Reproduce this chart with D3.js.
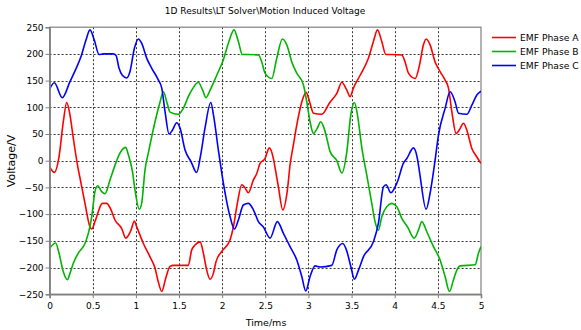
<!DOCTYPE html>
<html><head><meta charset="utf-8">
<script src="https://cdn.jsdelivr.net/npm/d3@7"></script>
<style>
body{margin:0;background:#fff;}
svg{display:block;}
text{font-family:"DejaVu Sans",sans-serif;font-size:9px;fill:#000;}
</style>
</head><body>
<svg id="c" width="581" height="330"></svg>
<script>
const chartTitle = "1D Results\\LT Solver\\Motion Induced Voltage";
const xLabel = "Time/ms";
const yLabel = "Voltage/V";
const seriesNames = ["EMF Phase A", "EMF Phase B", "EMF Phase C"];
const xTicks = [0, 0.5, 1, 1.5, 2, 2.5, 3, 3.5, 4, 4.5, 5];
const yTicks = [-250, -200, -150, -100, -50, 0, 50, 100, 150, 200, 250];

const phaseA = [[0,-11],[0.055,-22],[0.109,7],[0.159,73],[0.198,109],[0.236,86],[0.275,42],[0.32,-5],[0.364,-42],[0.41,-80],[0.468,-124],[0.488,-128],[0.526,-114],[0.565,-95],[0.611,-80],[0.662,-80],[0.712,-92],[0.758,-111],[0.836,-127],[0.882,-145],[0.944,-130],[0.982,-113],[1.01,-124],[1.087,-155],[1.164,-180],[1.222,-201],[1.26,-227],[1.3,-245],[1.346,-220],[1.396,-198],[1.435,-196],[1.608,-196],[1.647,-167],[1.686,-158],[1.744,-152],[1.782,-173],[1.821,-205],[1.86,-222],[1.898,-211],[1.929,-189],[1.995,-170],[2.092,-148],[2.13,-124],[2.176,-80],[2.227,-45],[2.262,-50],[2.304,-60],[2.362,-36],[2.401,-24],[2.439,-5],[2.497,4],[2.547,24],[2.594,4],[2.625,-24],[2.652,-49],[2.702,-92],[2.756,-55],[2.787,-8],[2.826,30],[2.865,67],[2.923,110],[2.973,128],[3.019,107],[3.058,89],[3.155,87],[3.251,110],[3.329,126],[3.387,147],[3.445,132],[3.483,120],[3.521,136],[3.599,160],[3.695,192],[3.753,223],[3.8,245],[3.85,223],[3.897,199],[3.966,199],[4.082,198],[4.12,185],[4.159,164],[4.237,154],[4.287,179],[4.333,217],[4.364,228],[4.41,217],[4.468,185],[4.526,167],[4.584,151],[4.623,136],[4.662,92],[4.712,51],[4.75,58],[4.797,70],[4.836,57],[4.894,23],[4.952,7],[5,-5]];

const phaseB = [[0,-164],[0.07,-154],[0.109,-173],[0.159,-208],[0.206,-223],[0.236,-211],[0.275,-192],[0.333,-173],[0.41,-155],[0.449,-136],[0.488,-105],[0.526,-58],[0.557,-47],[0.604,-58],[0.642,-62],[0.7,-36],[0.766,-5],[0.805,11],[0.882,25],[0.913,11],[0.96,-20],[0.99,-55],[1.04,-91],[1.067,-80],[1.106,-17],[1.145,15],[1.222,73],[1.28,110],[1.319,129],[1.358,110],[1.396,91],[1.492,87],[1.55,98],[1.608,120],[1.647,132],[1.724,147],[1.774,132],[1.813,118],[1.86,132],[1.937,160],[2.014,189],[2.072,220],[2.138,245],[2.188,223],[2.234,199],[2.304,199],[2.42,198],[2.459,185],[2.497,164],[2.575,154],[2.633,192],[2.698,228],[2.749,217],[2.807,185],[2.865,164],[2.942,142],[2.981,110],[3.019,73],[3.058,51],[3.1,60],[3.143,73],[3.181,61],[3.213,42],[3.251,17],[3.329,0],[3.387,-23],[3.445,17],[3.491,86],[3.533,109],[3.568,86],[3.618,25],[3.676,-27],[3.734,-80],[3.772,-114],[3.811,-130],[3.85,-105],[3.908,-86],[3.966,-80],[4.024,-86],[4.082,-108],[4.148,-124],[4.225,-145],[4.275,-130],[4.314,-114],[4.372,-133],[4.449,-161],[4.526,-186],[4.584,-217],[4.635,-245],[4.681,-223],[4.72,-205],[4.758,-197],[4.932,-195],[4.971,-173],[5,-161]];

const phaseC = [[0,134],[0.055,146],[0.147,118],[0.236,148],[0.3,170],[0.364,195],[0.42,225],[0.468,245],[0.518,226],[0.573,199],[0.623,200],[0.739,200],[0.77,197],[0.805,173],[0.843,160],[0.893,155],[0.932,167],[0.982,210],[1.029,228],[1.067,220],[1.125,192],[1.184,173],[1.261,151],[1.3,136],[1.338,92],[1.384,50],[1.423,57],[1.473,71],[1.512,61],[1.57,20],[1.64,-2],[1.705,-22],[1.75,10],[1.8,60],[1.868,109],[1.9,85],[1.956,20],[2.014,-42],[2.092,-105],[2.142,-128],[2.188,-111],[2.246,-83],[2.304,-80],[2.362,-92],[2.42,-114],[2.478,-124],[2.555,-145],[2.64,-114],[2.71,-136],[2.787,-161],[2.865,-186],[2.923,-217],[2.969,-244],[3.019,-217],[3.077,-197],[3.135,-199],[3.27,-196],[3.329,-167],[3.398,-155],[3.44,-167],[3.491,-198],[3.533,-222],[3.58,-205],[3.637,-180],[3.753,-152],[3.811,-117],[3.869,-49],[3.9,-45],[3.955,-60],[4.032,-39],[4.1,-5],[4.14,4],[4.217,24],[4.263,4],[4.29,-24],[4.364,-91],[4.41,-61],[4.468,1],[4.507,48],[4.584,98],[4.642,129],[4.7,110],[4.739,89],[4.836,87],[4.894,104],[4.952,123],[5,130]];

const allSeries = [phaseA, phaseB, phaseC];
const colors = ["#ff0000", "#00b400", "#0000ff"];
const legendTextColors = ["#ff1a1a", "#2db82d", "#1a1aff"];

const svg = d3.select("#c");
const L = 49.6, R = 481, T = 27.2, B = 294.2;
const x = d3.scaleLinear().domain([0, 5]).range([L, R]);
const y = d3.scaleLinear().domain([-250, 250]).range([B, T]);

// grid
const grid = svg.append("g").attr("stroke", "#333").attr("stroke-width", 1).attr("stroke-dasharray", "2,2");
grid.selectAll(".gx").data(xTicks.slice(1, -1)).join("line")
  .attr("x1", d => Math.round(x(d)) + 0.5).attr("x2", d => Math.round(x(d)) + 0.5)
  .attr("y1", T).attr("y2", B);
grid.selectAll(".gy").data(yTicks.slice(1, -1)).join("line")
  .attr("y1", d => Math.round(y(d)) + 0.5).attr("y2", d => Math.round(y(d)) + 0.5)
  .attr("x1", L).attr("x2", R);

// frame
svg.append("rect").attr("x", L).attr("y", T).attr("width", R - L).attr("height", B - T)
  .attr("fill", "none").attr("stroke", "#808080").attr("stroke-width", 1.2);

// series
const clipId = "clipP";
svg.append("clipPath").attr("id", clipId).append("rect")
  .attr("x", L).attr("y", T - 2).attr("width", R - L).attr("height", B - T + 4);
const line = d3.line().x(d => x(d[0])).y(d => y(d[1])).curve(d3.curveMonotoneX);
svg.append("g").attr("clip-path", `url(#${clipId})`)
  .selectAll("path").data(allSeries).join("path")
  .attr("d", line).attr("fill", "none")
  .attr("stroke", (d, i) => colors[i]).attr("stroke-width", 1.6)
  .attr("stroke-linejoin", "round");

// axes
const yAxis = d3.axisLeft(y).tickValues(yTicks).tickSize(4).tickPadding(2).tickFormat(d3.format("d"));
const gy = svg.append("g").attr("transform", `translate(${L},0)`).call(yAxis);
const xAxis = d3.axisBottom(x).tickValues(xTicks).tickSize(4).tickPadding(4).tickFormat(d => String(d));
const gx = svg.append("g").attr("transform", `translate(0,${B})`).call(xAxis);
[gx, gy].forEach(g => {
  g.select(".domain").attr("stroke", "#808080").attr("stroke-width", 1.6);
  g.selectAll(".tick line").attr("stroke", "#808080").attr("stroke-width", 1);
  g.selectAll(".tick text").attr("font-family", "DejaVu Sans").attr("font-size", 9).attr("fill", "#000");
});

// title & labels
svg.append("text").attr("x", 265).attr("y", 14).attr("text-anchor", "middle").text(chartTitle);
svg.append("text").attr("x", 266).attr("y", 326).attr("text-anchor", "middle").style("font-size", "9.5px").text(xLabel);
svg.append("text").attr("transform", "translate(15,161) rotate(-90)").attr("text-anchor", "middle").style("font-size", "11px").text(yLabel);

// legend
const lg = svg.append("g");
seriesNames.forEach((n, i) => {
  const yy = 37.5 + i * 14;
  lg.append("line").attr("x1", 492).attr("x2", 516).attr("y1", yy).attr("y2", yy)
    .attr("stroke", colors[i]).attr("stroke-width", 1.6);
  lg.append("text").attr("x", 520).attr("y", yy + 3.6).attr("fill", legendTextColors[i])
    .style("font-size", "9.2px").text(n);
});
</script>
</body></html>
